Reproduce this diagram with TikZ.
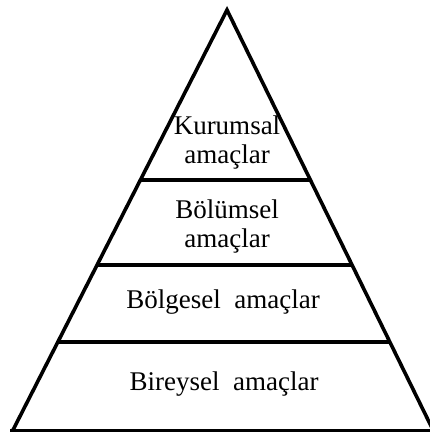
\documentclass[tikz,border=0pt]{standalone}
\usepackage{fontspec}
\setmainfont{Liberation Serif}
\usetikzlibrary{calc}
\begin{document}
\begin{tikzpicture}[x=1pt,y=-1pt,
  edge/.style={line width=3.6pt, line join=miter},
  level/.style={font=\fontsize{27}{29}\selectfont, align=center, inner sep=0pt}]
\useasboundingbox (0,0) rectangle (429,433);
% pyramid outline
\coordinate (apex) at (227,10);
\coordinate (bl) at (13,430);
\coordinate (br) at (433,430);
\draw[edge] (bl) -- (apex) -- (br);
\draw[edge] (10,430.5) -- (433,430.5);
% level separators, ending on the two sides
\draw[edge] ($(apex)!0.405!(bl)$) -- ($(apex)!0.405!(br)$);
\draw[edge] ($(apex)!0.607!(bl)$) -- ($(apex)!0.607!(br)$);
\draw[edge] ($(apex)!0.791!(bl)$) -- ($(apex)!0.791!(br)$);
% level labels
\node[level] (k) at (227,143) {Kurumsal\\amaçlar};
\node[level] (b1) at (227,227) {Bölümsel\\amaçlar};
\node[level] (b2) at (223,302) {Bölgesel~ amaçlar};
\node[level] (b3) at (224,384) {Bireysel~ amaçlar};
\end{tikzpicture}
\end{document}
